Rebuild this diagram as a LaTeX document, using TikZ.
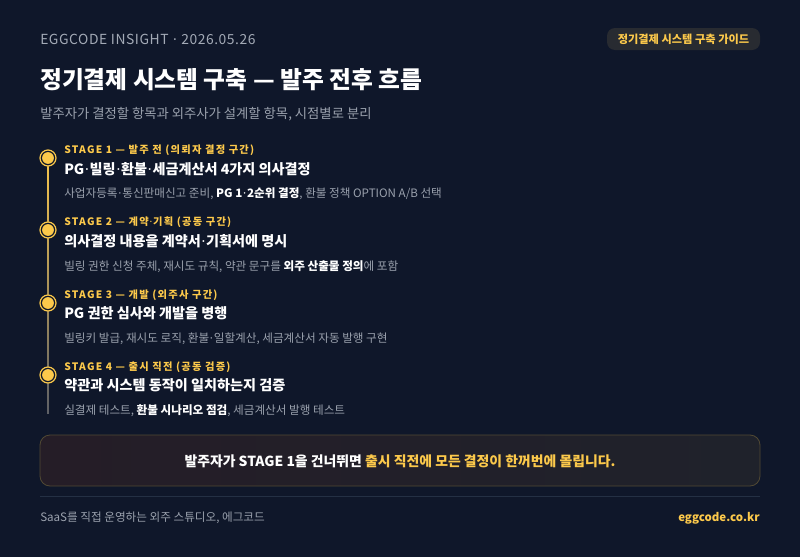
\documentclass[tikz,border=0pt]{standalone}
\usepackage{fontspec}
\setmainfont{Noto Sans CJK KR}
\newfontfamily\stagefont[LetterSpace=12]{Noto Sans CJK KR}
\newfontfamily\brandfont[LetterSpace=4]{Noto Sans CJK KR}
\newfontfamily\latinfont{Noto Sans}
\newcommand\mdot{{\latinfont\hspace{0.6pt}·\hspace{0.6pt}}}
\usetikzlibrary{positioning}

\definecolor{bgcol}{HTML}{0F172A}
\definecolor{gold}{HTML}{FCC94B}
\definecolor{muted}{HTML}{9AA1AD}
\definecolor{hdrgray}{HTML}{A3AAB6}
\definecolor{badgefill}{HTML}{282B31}
\definecolor{rule}{HTML}{243044}
\definecolor{noteleft}{HTML}{251D27}
\definecolor{noteright}{HTML}{1F222B}

\begin{document}
\begin{tikzpicture}
	[x=0.75pt, y=-0.75pt,
	 txt/.style={anchor=base west, inner sep=0pt},
	 stagelbl/.style={txt, text=gold, font=\stagefont\bfseries\fontsize{7.7}{9}\selectfont},
	 stagettl/.style={txt, text=white, font=\bfseries\fontsize{10.6}{12}\selectfont},
	 stagedesc/.style={txt, text=muted, font=\fontsize{8.7}{10}\selectfont}]
   \useasboundingbox[fill=bgcol] (0,0) rectangle (800,557);
   % header
   \node[txt, text=hdrgray, font=\brandfont\fontsize{10.4}{12}\selectfont] (brand) at (40,44) {EGGCODE INSIGHT \mdot{} 2026.05.26};
   \fill[badgefill, rounded corners=6pt] (607,28) rectangle (760,50);
   \node[text=gold, font=\bfseries\fontsize{8.4}{10}\selectfont, inner sep=0pt] (badge) at (683.5,39) {정기결제 시스템 구축 가이드};
   \node[txt, text=white, font=\bfseries\fontsize{17.8}{20}\selectfont] (title) at (40,88) {정기결제 시스템 구축 — 발주 전후 흐름};
   \node[txt, text=muted, font=\fontsize{10}{12}\selectfont] (subtitle) at (40,118) {발주자가 결정할 항목과 외주사가 설계할 항목, 시점별로 분리};
   % timeline
   \shade[top color=gold, bottom color=gray!70!bgcol] (47.2,150) rectangle (48.8,413);
   \foreach \y in {158,230,303,375} {
     \fill[bgcol] (48,\y) circle[radius=6.2pt];
     \draw[gold, line width=0.9pt] (48,\y) circle[radius=6pt];
     \fill[gold] (48,\y) circle[radius=4.4pt];
   }
   % stage 1
   \node[stagelbl] (s1) at (64,153) {STAGE 1 — 발주 전 (의뢰자 결정 구간)};
   \node[stagettl] (t1) at (64,174) {PG\mdot 빌링\mdot 환불\mdot 세금계산서 4가지 의사결정};
   \node[stagedesc] (d1) at (64,197) {사업자등록\mdot 통신판매신고 준비, \textcolor{white}{\bfseries PG 1\mdot 2순위 결정}, 환불 정책 OPTION A/B 선택};
   % stage 2
   \node[stagelbl] (s2) at (64,225) {STAGE 2 — 계약\mdot 기획 (공동 구간)};
   \node[stagettl] (t2) at (64,246) {의사결정 내용을 계약서\mdot 기획서에 명시};
   \node[stagedesc] (d2) at (64,270) {빌링 권한 신청 주체, 재시도 규칙, 약관 문구를 \textcolor{white}{\bfseries 외주 산출물 정의}에 포함};
   % stage 3
   \node[stagelbl] (s3) at (64,298) {STAGE 3 — 개발 (외주사 구간)};
   \node[stagettl] (t3) at (64,318) {PG 권한 심사와 개발을 병행};
   \node[stagedesc] (d3) at (64,342) {빌링키 발급, 재시도 로직, 환불\mdot 일할계산, 세금계산서 자동 발행 구현};
   % stage 4
   \node[stagelbl] (s4) at (64,370) {STAGE 4 — 출시 직전 (공동 검증)};
   \node[stagettl] (t4) at (64,390) {약관과 시스템 동작이 일치하는지 검증};
   \node[stagedesc] (d4) at (64,414) {실결제 테스트, \textcolor{white}{\bfseries 환불 시나리오 점검}, 세금계산서 발행 테스트};
   % callout
   \shade[left color=noteleft, right color=noteright, rounded corners=7.5pt] (40,435) rectangle (760,486);
   \draw[gold!28!bgcol, line width=0.6pt, rounded corners=7.5pt] (40,435) rectangle (760,486);
   \node[text=white, font=\bfseries\fontsize{10.4}{12}\selectfont, inner sep=0pt] (note) at (400,461)
     {발주자가 STAGE 1을 건너뛰면 \textcolor{gold}{출시 직전에 모든 결정이 한꺼번에 몰립니다.}};
   % footer
   \draw[rule, line width=0.75pt] (40,496) -- (760,496);
   \node[txt, text=muted, font=\fontsize{8.7}{10}\selectfont] (studio) at (40,521) {SaaS를 직접 운영하는 외주 스튜디오, 에그코드};
   \node[anchor=base east, inner sep=0pt, text=gold, font=\bfseries\fontsize{8.6}{10}\selectfont] (site) at (760,521) {eggcode.co.kr};
\end{tikzpicture}
\end{document}
